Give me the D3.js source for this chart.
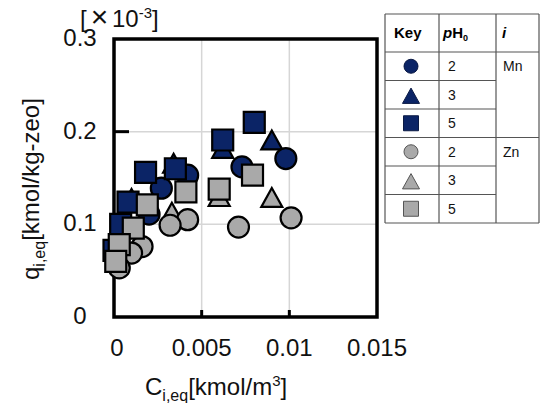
<!DOCTYPE html>
<html><head><meta charset="utf-8">
<script src="https://cdn.jsdelivr.net/npm/d3@7"></script>
<style>body{margin:0;background:#fff}svg{display:block}text{font-family:"Liberation Sans",Arial,sans-serif}</style>
</head><body>
<script>
// ---- data ----
const xTicks = [0, 0.005, 0.01, 0.015];
const xTickLabels = ["0", "0.005", "0.01", "0.015"];
const yTicks = [0, 0.1, 0.2, 0.3];
const yTickLabels = ["0", "0.1", "0.2", "0.3"];

const mnPH2_C = [0.0098, 0.0073, 0.0042, 0.0027, 0.0020];
const mnPH2_Q = [0.171, 0.162, 0.153, 0.139, 0.111];
const mnPH3_C = [0.0090, 0.0062, 0.0034, 0.0010];
const mnPH3_Q = [0.191, 0.182, 0.166, 0.128];
const mnPH5_C = [0.0080, 0.0062, 0.0035, 0.0018, 0.0008, 0.00038, 0.0000];
const mnPH5_Q = [0.210, 0.191, 0.160, 0.156, 0.124, 0.100, 0.072];
const znPH2_C = [0.0101, 0.0071, 0.0042, 0.0032, 0.0016, 0.0010, 0.0003];
const znPH2_Q = [0.107, 0.097, 0.105, 0.099, 0.076, 0.069, 0.053];
const znPH3_C = [0.0090, 0.0060, 0.0033];
const znPH3_Q = [0.129, 0.130, 0.113];
const znPH5_C = [0.0079, 0.0060, 0.0041, 0.0019, 0.0011, 0.0003, 0.0001];
const znPH5_Q = [0.153, 0.138, 0.135, 0.121, 0.096, 0.078, 0.060];

const legendKeys = ["circle","triangle","square","circle","triangle","square"];
const legendPH = ["2","3","5","2","3","5"];
const legendIon = ["Mn","Zn"];

const NAVY = "#0b2466", GRAY = "#a9a9a9";

// series draw order
const series = [
  {c: mnPH3_C, q: mnPH3_Q, shape: "triangle", fill: NAVY},
  {c: mnPH2_C, q: mnPH2_Q, shape: "circle", fill: NAVY},
  {c: mnPH5_C, q: mnPH5_Q, shape: "square", fill: NAVY},
  {c: znPH3_C, q: znPH3_Q, shape: "triangle", fill: GRAY},
  {c: znPH2_C, q: znPH2_Q, shape: "circle", fill: GRAY},
  {c: znPH5_C, q: znPH5_Q, shape: "square", fill: GRAY},
];

const W = 540, H = 403;
const svg = d3.select("body").append("svg").attr("width", W).attr("height", H);

const x = d3.scaleLinear().domain([0, 0.015]).range([114, 377]);
const y = d3.scaleLinear().domain([0, 0.3]).range([317, 39]);

// gridlines
const g = svg.append("g");
g.selectAll(".vg").data(xTicks.slice(1, -1)).enter().append("line")
  .attr("x1", d => x(d)).attr("x2", d => x(d)).attr("y1", y(0.3)).attr("y2", y(0))
  .attr("stroke", "#d6d6d6").attr("stroke-width", 1.5);
g.selectAll(".hg").data(yTicks.slice(1, -1)).enter().append("line")
  .attr("y1", d => y(d)).attr("y2", d => y(d)).attr("x1", x(0)).attr("x2", x(0.015))
  .attr("stroke", "#d6d6d6").attr("stroke-width", 1.5);

// inner ticks
g.selectAll(".lt").data(yTicks.slice(1, -1)).enter().append("line")
  .attr("y1", d => y(d)).attr("y2", d => y(d)).attr("x1", x(0)).attr("x2", x(0) + 15)
  .attr("stroke", "#000").attr("stroke-width", 3);
g.selectAll(".bt").data(xTicks.slice(1, -1)).enter().append("line")
  .attr("x1", d => x(d)).attr("x2", d => x(d)).attr("y1", y(0)).attr("y2", y(0) - 7)
  .attr("stroke", "#000").attr("stroke-width", 3);

// frame
svg.append("rect").attr("x", x(0)).attr("y", y(0.3))
  .attr("width", x(0.015) - x(0)).attr("height", y(0) - y(0.3))
  .attr("fill", "none").attr("stroke", "#000").attr("stroke-width", 3.5);

// tick labels
svg.selectAll(".xl").data(xTicks).enter().append("text")
  .attr("x", d => x(d) + (d === 0 ? 3 : 0)).attr("y", 356).attr("text-anchor", "middle")
  .attr("font-size", 24).attr("fill", "#111").text((d, i) => xTickLabels[i]);
svg.selectAll(".yl").data(yTicks).enter().append("text")
  .attr("x", 80).attr("y", d => y(d) + 7).attr("text-anchor", "middle")
  .attr("font-size", 24).attr("fill", "#111").text((d, i) => yTickLabels[i]);

// axis titles
const xt = svg.append("text").attr("x", 145).attr("y", 395).attr("font-size", 24).attr("fill", "#111");
xt.append("tspan").text("C");
xt.append("tspan").attr("font-size", 16).attr("dy", 6).text("i,eq");
xt.append("tspan").attr("dy", -6).text("[kmol/m");
xt.append("tspan").attr("font-size", 15).attr("dy", -9).text("3");
xt.append("tspan").attr("dy", 9).text("]");

const yt = svg.append("text").attr("transform", "translate(39,280) rotate(-90)")
  .attr("font-size", 24).attr("fill", "#111");
yt.append("tspan").text("q");
yt.append("tspan").attr("font-size", 16).attr("dy", 6).text("i,eq");
yt.append("tspan").attr("dy", -6).text("[kmol/kg-zeo]");

// multiplier label  [×10^-3]
const mult = svg.append("g").attr("fill", "#111");
mult.append("text").attr("x", 80).attr("y", 27).attr("font-size", 24).text("[");
mult.append("text").attr("x", 99.5).attr("y", 27).attr("text-anchor", "middle")
  .attr("font-size", 30).text("×");
const ten = mult.append("text").attr("x", 112).attr("y", 27).attr("font-size", 24);
ten.append("tspan").text("10");
ten.append("tspan").attr("font-size", 15).attr("dy", -9).text("-3");
ten.append("tspan").attr("dy", 9).text("]");

// marker path generator
function shapePath(shape, s) {
  const h = s / 2;
  if (shape === "circle") return `M${-h},0A${h},${h} 0 1,0 ${h},0A${h},${h} 0 1,0 ${-h},0Z`;
  if (shape === "square") return `M${-h},${-h}H${h}V${h}H${-h}Z`;
  const th = s * 0.9 / 2;
  return `M0,${-th}L${h},${th}L${-h},${th}Z`;
}

// markers
series.forEach(sr => {
  svg.append("g").selectAll("path").data(sr.c.map((c, i) => [c, sr.q[i]])).enter().append("path")
    .attr("transform", d => `translate(${x(d[0])},${y(d[1])})`)
    .attr("d", shapePath(sr.shape, 21))
    .attr("fill", sr.fill).attr("stroke", "#000").attr("stroke-width", 2.2)
    .attr("stroke-linejoin", "miter");
});

// legend table
const cols = [385, 439, 496, 539];
const rows = [14, 52, 80.5, 109, 137.5, 166, 194.5, 223];
const tl = svg.append("g");
const lc = "#555", lw = 1.2;
cols.forEach(cx => tl.append("line").attr("x1", cx).attr("x2", cx).attr("y1", rows[0]).attr("y2", rows[7]).attr("stroke", lc).attr("stroke-width", lw));
rows.forEach((ry, i) => {
  const full = (i === 0 || i === 1 || i === 4 || i === 7);
  tl.append("line").attr("x1", cols[0]).attr("x2", full ? cols[3] : cols[2]).attr("y1", ry).attr("y2", ry)
    .attr("stroke", lc).attr("stroke-width", lw);
});
// header
tl.append("text").attr("x", 394).attr("y", 38).attr("font-size", 15).attr("font-weight", "bold").text("Key");
const ph = tl.append("text").attr("x", 443).attr("y", 38).attr("font-size", 15).attr("font-weight", "bold");
ph.append("tspan").attr("font-style", "italic").text("p");
ph.append("tspan").text("H");
ph.append("tspan").attr("font-size", 9).attr("dy", 3).text("0");
tl.append("text").attr("x", 502).attr("y", 38).attr("font-size", 15).attr("font-weight", "bold").attr("font-style", "italic").text("i");
// rows
legendKeys.forEach((k, i) => {
  const cy = (rows[i + 1] + rows[i + 2]) / 2;
  const isMn = i < 3;
  tl.append("path").attr("transform", `translate(411,${cy + (k === "triangle" ? 1 : 0)})`)
    .attr("d", shapePath(k, k === "circle" ? 14 : (k === "square" ? 15 : 17)))
    .attr("fill", isMn ? NAVY : GRAY).attr("stroke", isMn ? "#0b1a44" : "#555").attr("stroke-width", 1);
  tl.append("text").attr("x", 448).attr("y", cy + 5).attr("font-size", 14).attr("fill", "#111").text(legendPH[i]);
});
legendIon.forEach((t, i) => {
  tl.append("text").attr("x", 503).attr("y", (rows[1 + i * 3] + rows[2 + i * 3]) / 2 + 5)
    .attr("font-size", 14).attr("fill", "#111").text(t);
});
</script>
</body></html>
